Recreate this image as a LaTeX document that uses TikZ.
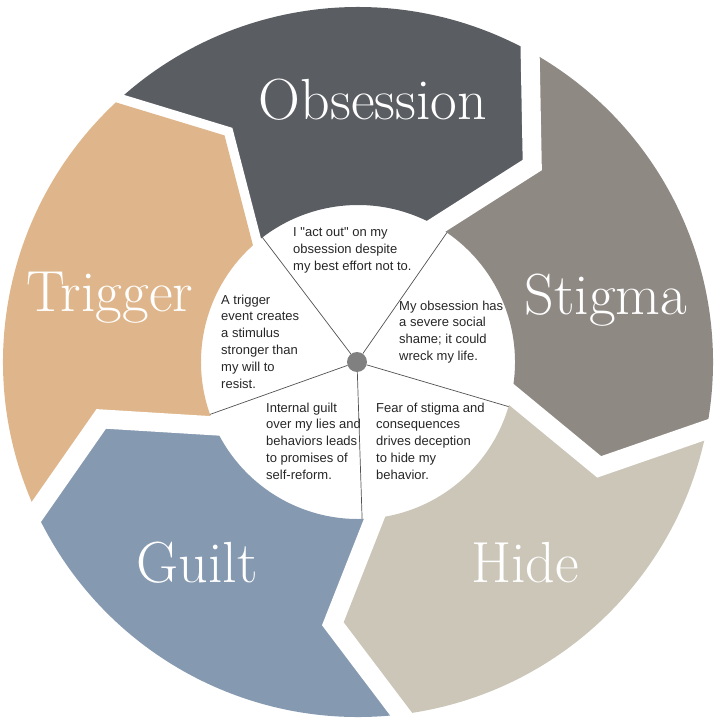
\documentclass[tikz,border=0pt]{standalone}
\usepackage{fontspec}
\newfontfamily\notefont{Liberation Sans}
\usetikzlibrary{calc}
\definecolor{obsc}{HTML}{5A5D62}
\definecolor{stic}{HTML}{8F8984}
\definecolor{hidc}{HTML}{CBC6B8}
\definecolor{guic}{HTML}{8599B1}
\definecolor{tric}{HTML}{DFB68B}
\definecolor{hubc}{HTML}{808080}
\definecolor{notec}{HTML}{262626}
\tikzset{
	stagelabel/.style={text=white, anchor=base, inner sep=0pt, font=\fontsize{58}{60}\selectfont},
	notetext/.style={anchor=north west, inner sep=0pt, align=left, text=notec, font=\notefont\fontsize{13}{16.8}\selectfont},
	spokeline/.style={draw=notec!80, line width=0.7pt},
	gapline/.style={white, line width=19pt}
}
\begin{document}
\begin{tikzpicture}
	\useasboundingbox (-358pt,-358pt) rectangle (362pt,362pt);
	\foreach \a/\c in {133/obsc,61/stic,-11/hidc,-83/guic,-155/tric}{
		\pgfmathsetmacro\b{\a-72}
		\fill[\c] (\a:355pt) arc[start angle=\a, end angle=\b, radius=355pt] -- (\b-12.5:263pt) -- (\b-1:157pt)
			arc[start angle=\b-1, end angle=\a-1, radius=157pt] -- (\a-12.5:263pt) -- cycle;
		\draw[gapline] ($(\a-12.5:263pt)!1.4!(\a:355pt)$) -- (\a-12.5:263pt) -- ($(\a-12.5:263pt)!1.3!(\a-1:157pt)$);
	}
	\node[circle, fill=hubc, inner sep=0pt, minimum size=20pt] (hub) at (-1pt,0pt) {};
	\foreach \a [count=\i] in {133,61,-11,-83,-155}{
		\coordinate (sp\i) at (\a-5.5:157pt);
		\draw[spokeline] (hub) -- (sp\i);
	}
	\node[stagelabel] (obs) at (15pt,242pt) {Obsession};
	\node[stagelabel] (sti) at (248pt,47pt) {Stigma};
	\node[stagelabel] (hid) at (167pt,-220pt) {Hide};
	\node[stagelabel] (gui) at (-161pt,-220pt) {Guilt};
	\node[stagelabel] (tri) at (-248pt,50pt) {Trigger};
	\node[notetext] (obsnote) at (-65pt,134.5pt) {I "act out" on my\\obsession despite\\my best effort not to.};
	\node[notetext] (stinote) at (41pt,61.5pt) {My obsession has\\a severe social\\shame; it could\\wreck my life.};
	\node[notetext] (trinote) at (-137pt,67.5pt) {A trigger\\event creates\\a stimulus\\stronger than\\my will to\\resist.};
	\node[notetext] (guinote) at (-92pt,-40.5pt) {Internal guilt\\over my lies and\\behaviors leads\\to promises of\\self-reform.};
	\node[notetext] (hidnote) at (18pt,-40.5pt) {Fear of stigma and\\consequences\\drives deception\\to hide my\\behavior.};
\end{tikzpicture}
\end{document}
